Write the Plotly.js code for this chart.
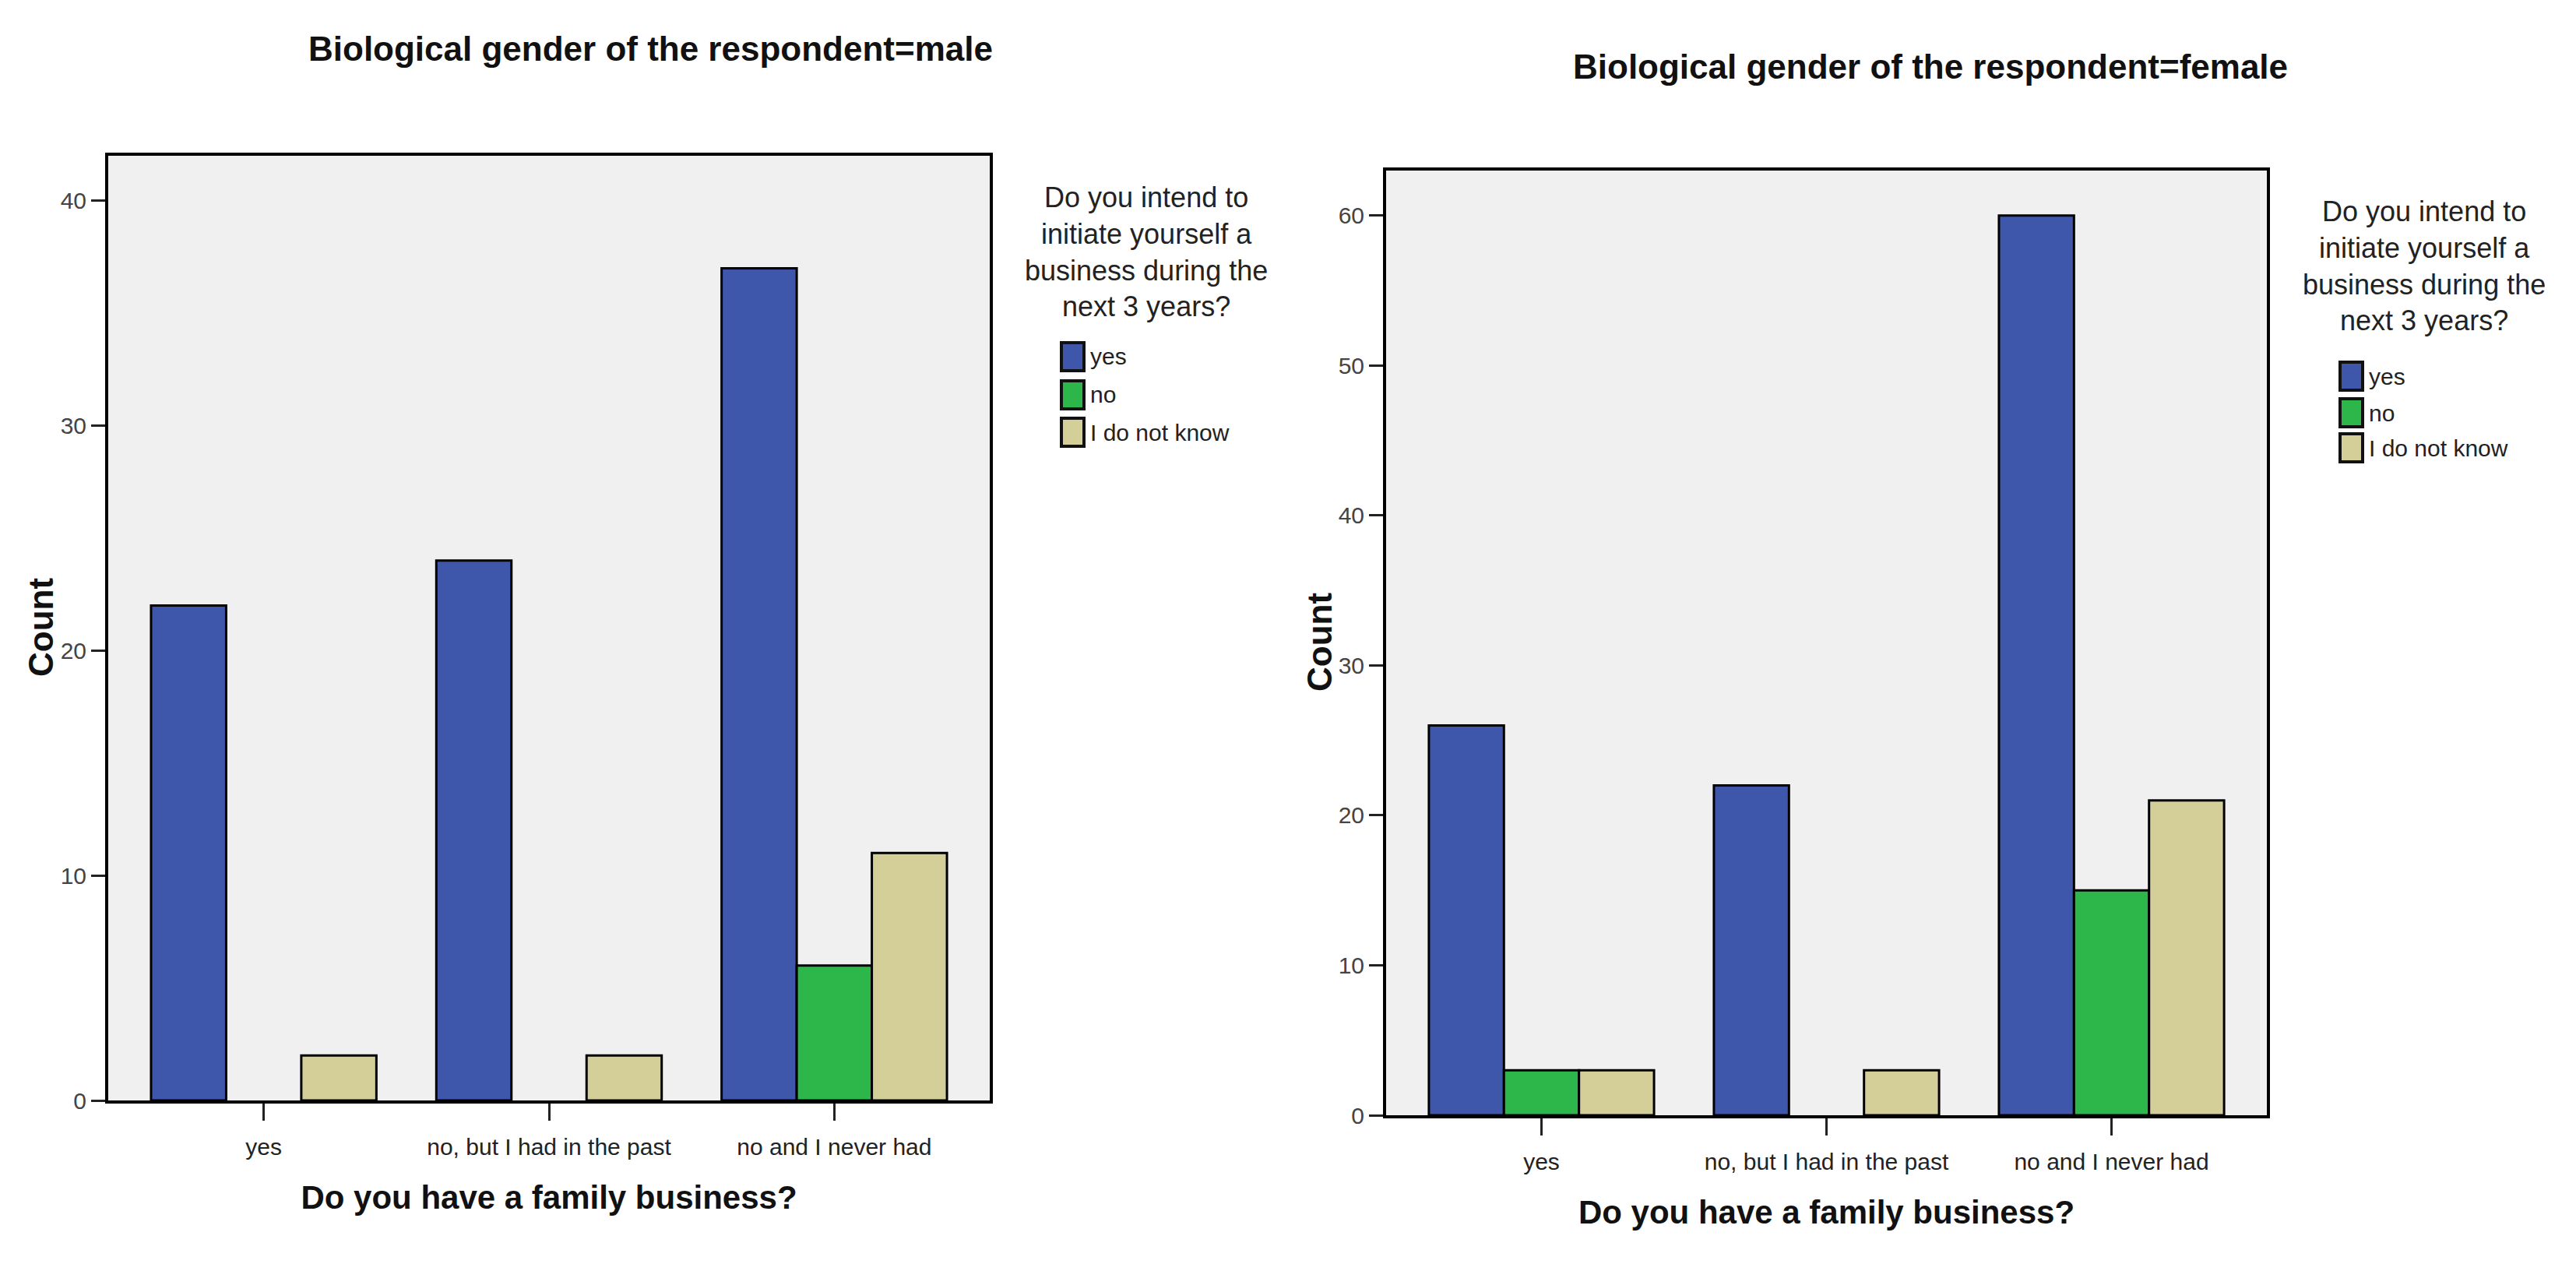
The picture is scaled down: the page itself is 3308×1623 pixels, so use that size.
<!DOCTYPE html>
<html>
<head>
<meta charset="utf-8">
<script src="https://cdn.plot.ly/plotly-3.0.1.min.js"></script>
<style>
  body { margin: 0; background: #ffffff; }
  #chart { width: 3308px; height: 1623px; }
</style>
</head>
<body>
<div id="chart"></div>
<script>
var categories = ['yes', 'no, but I had in the past', 'no and I never had'];
var seriesNames = ['yes', 'no', 'I do not know'];
var seriesColors = ['#3e57ab', '#2db74a', '#d4cf98'];

// counts per answer, one array per legend item
var maleYes = [22, 24, 37];
var maleNo = [0, 0, 6];
var maleDontKnow = [2, 2, 11];

var femaleYes = [26, 22, 60];
var femaleNo = [3, 0, 15];
var femaleDontKnow = [3, 3, 21];

var maleTicks = [0, 10, 20, 30, 40];
var femaleTicks = [0, 10, 20, 30, 40, 50, 60];

var W = 3308, H = 1623;
var font = 'Liberation Sans, Arial, sans-serif';

// pixel -> paper helpers
function px(x) { return x / W; }
function py(y) { return 1 - y / H; }

function barTrace(values, i, xa, ya) {
  return {
    type: 'bar',
    x: categories,
    // a zero count draws no bar at all
    y: values.map(function (v) { return v === 0 ? null : v; }),
    name: seriesNames[i],
    xaxis: xa,
    yaxis: ya,
    showlegend: false,
    marker: {
      color: seriesColors[i],
      line: { color: '#000000', width: 3 }
    }
  };
}

var data = [
  barTrace(maleYes, 0, 'x', 'y'),
  barTrace(maleNo, 1, 'x', 'y'),
  barTrace(maleDontKnow, 2, 'x', 'y'),
  barTrace(femaleYes, 0, 'x2', 'y2'),
  barTrace(femaleNo, 1, 'x2', 'y2'),
  barTrace(femaleDontKnow, 2, 'x2', 'y2')
];

function xAxis(domain, anchor) {
  return {
    domain: domain,
    anchor: anchor,
    type: 'category',
    range: [-0.545, 2.545],
    showline: true,
    mirror: true,
    linecolor: '#000000',
    linewidth: 4,
    ticks: 'outside',
    ticklen: 22,
    tickwidth: 3,
    tickcolor: '#222222',
    ticklabelstandoff: 8,
    showgrid: false,
    zeroline: false,
    tickfont: { family: font, size: 30, color: '#222222' },
    title: {
      text: 'Do you have a family business?',
      font: { family: font, size: 42, color: '#111111', weight: 'bold' },
      standoff: 36
    }
  };
}

function yAxis(domain, anchor, range, ticks) {
  return {
    domain: domain,
    anchor: anchor,
    range: range,
    tickvals: ticks,
    showline: true,
    mirror: true,
    linecolor: '#000000',
    linewidth: 4,
    ticks: 'outside',
    ticklen: 18,
    tickwidth: 3,
    tickcolor: '#222222',
    showgrid: false,
    zeroline: false,
    tickfont: { family: font, size: 30, color: '#444444' }
  };
}

var legendTitle = 'Do you intend to<br>initiate yourself a<br>business during the<br>next 3 years?';

var layout = {
  width: W,
  height: H,
  paper_bgcolor: '#ffffff',
  plot_bgcolor: '#f0f0f0',
  margin: { l: 0, r: 0, t: 0, b: 0, pad: 0 },
  barmode: 'group',
  bargap: 0.21,
  bargroupgap: 0,
  showlegend: false,
  font: { family: font, color: '#222222' },
  xaxis: xAxis([px(139), px(1271)], 'y'),
  yaxis: yAxis([py(1413), py(200)], 'x', [0, 42], maleTicks),
  xaxis2: xAxis([px(1780), px(2911)], 'y2'),
  yaxis2: yAxis([py(1432), py(219)], 'x2', [0, 63], femaleTicks),
  annotations: [
    {
      xref: 'paper', yref: 'paper', x: px(835), y: py(62), xanchor: 'center', yanchor: 'middle',
      text: '<b>Biological gender of the respondent=male</b>', showarrow: false,
      font: { family: font, size: 44, color: '#111111' }
    },
    {
      xref: 'paper', yref: 'paper', x: px(2479), y: py(85), xanchor: 'center', yanchor: 'middle',
      text: '<b>Biological gender of the respondent=female</b>', showarrow: false,
      font: { family: font, size: 44, color: '#111111' }
    },
    // y axis titles
    {
      xref: 'paper', yref: 'paper', x: px(53), y: py(806), xanchor: 'center', yanchor: 'middle',
      text: '<b>Count</b>', textangle: -90, showarrow: false,
      font: { family: font, size: 44, color: '#111111' }
    },
    {
      xref: 'paper', yref: 'paper', x: px(1694), y: py(825), xanchor: 'center', yanchor: 'middle',
      text: '<b>Count</b>', textangle: -90, showarrow: false,
      font: { family: font, size: 44, color: '#111111' }
    }
  ],
  shapes: []
};

// one SPSS-style legend beside each panel
var legends = [
  { titleX: 1472, titleY: 323, boxX: 1363, itemY: [458, 507, 555] },
  { titleX: 3113, titleY: 341, boxX: 3005, itemY: [483, 530, 575] }
];

legends.forEach(function (lg) {
  layout.annotations.push({
    xref: 'paper', yref: 'paper', x: px(lg.titleX), y: py(lg.titleY),
    xanchor: 'center', yanchor: 'middle', align: 'center',
    text: legendTitle, showarrow: false,
    font: { family: font, size: 36, color: '#222222' }
  });
  for (var i = 0; i < seriesNames.length; i++) {
    layout.shapes.push({
      type: 'rect', xref: 'paper', yref: 'paper',
      x0: px(lg.boxX), x1: px(lg.boxX + 29),
      y0: py(lg.itemY[i] + 18), y1: py(lg.itemY[i] - 18),
      fillcolor: seriesColors[i], line: { color: '#111111', width: 4 }
    });
    layout.annotations.push({
      xref: 'paper', yref: 'paper', x: px(lg.boxX + 35), y: py(lg.itemY[i]),
      xanchor: 'left', yanchor: 'middle',
      text: seriesNames[i], showarrow: false,
      font: { family: font, size: 30, color: '#222222' }
    });
  }
});

Plotly.newPlot('chart', data, layout, { displayModeBar: false, staticPlot: true });
</script>
</body>
</html>
